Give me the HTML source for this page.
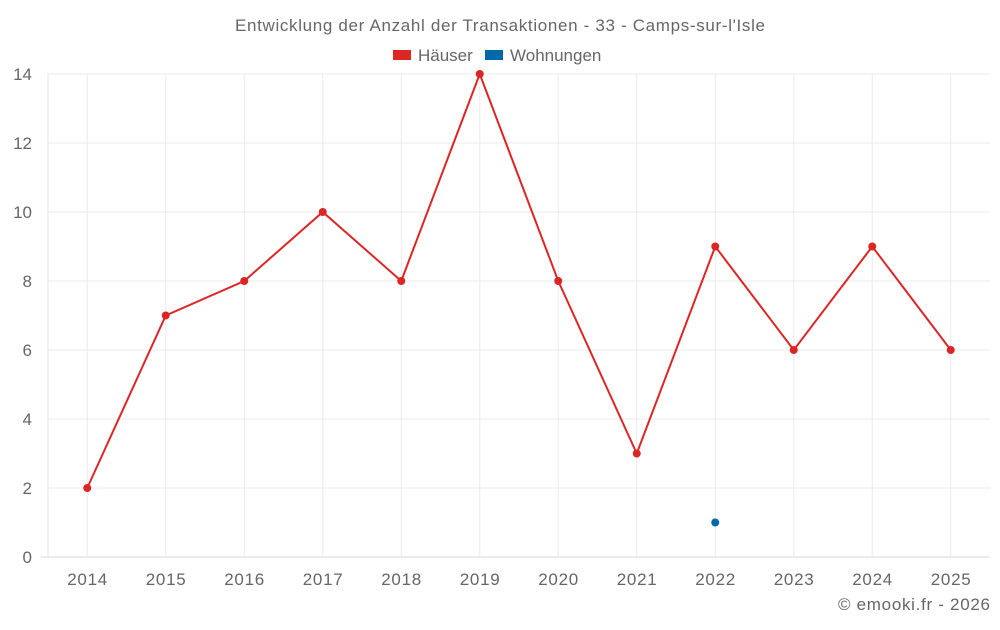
<!DOCTYPE html>
<html><head><meta charset="utf-8"><style>
body{margin:0;background:#fff;font-family:"Liberation Sans",sans-serif}
svg text{font-family:"Liberation Sans",sans-serif;fill:#666}
</style></head><body>
<svg id="c" width="1000" height="625">
<text x="500" y="31" text-anchor="middle" font-size="17" textLength="530">Entwicklung der Anzahl der Transaktionen - 33 - Camps-sur-l'Isle</text>
<g>
<rect x="393" y="50" width="18" height="10" fill="#dc2626"/>
<text x="418" y="61" font-size="17">Häuser</text>
<rect x="485" y="50" width="18" height="10" fill="#0069a8"/>
<text x="510" y="61" font-size="17">Wohnungen</text>
</g>
<g id="grid"></g><g id="marks"></g>
<text x="990" y="610" text-anchor="end" font-size="17" textLength="152">© emooki.fr - 2026</text>
</svg>
<script>
const years=[2014,2015,2016,2017,2018,2019,2020,2021,2022,2023,2024,2025];
const houses=[2,7,8,10,8,14,8,3,9,6,9,6];
const flats=[null,null,null,null,null,null,null,null,1,null,null,null];
const yTicks=[0,2,4,6,8,10,12,14];
const L=48,R=990,T=74,B=557,yMax=14;
const band=(R-L)/years.length;
const x=i=>L+band*(i+0.5);
const y=v=>B-(v/yMax)*(B-T);
const NS="http://www.w3.org/2000/svg";
function mk(tag,attrs,parent){const e=document.createElementNS(NS,tag);for(const k in attrs)e.setAttribute(k,attrs[k]);document.getElementById(parent).appendChild(e);return e;}
yTicks.forEach(t=>{
 const l=mk('line',{x1:L,x2:R,y1:y(t),y2:y(t),stroke:t===0?'#d8d8d8':'#ebebeb'},'grid');
 
 
 const tx=mk('text',{x:32,y:y(t)+6,'text-anchor':'end','font-size':17},'grid');
 tx.textContent=t;
 
 
});
mk('line',{x1:41,x2:L,y1:B,y2:B,stroke:'#d8d8d8'},'grid');
mk('line',{x1:L,x2:L,y1:T,y2:B,stroke:'#e4e4e4'},'grid');
years.forEach((yr,i)=>{
 const l=mk('line',{x1:x(i),x2:x(i),y1:T,y2:B,stroke:'#ebebeb'},'grid');
 
 
 const tx=mk('text',{x:x(i),y:585,'text-anchor':'middle','font-size':17,textLength:40},'grid');
 tx.textContent=yr;
 
 
});
const pl=mk('polyline',{points:houses.map((v,i)=>x(i)+','+y(v)).join(' '),fill:'none',stroke:'#dc2626','stroke-width':2},'marks');


houses.forEach((v,i)=>{
 const c=mk('circle',{cx:x(i),cy:y(v),r:4,fill:'#dc2626'},'marks');
 
 
});
flats.forEach((v,i)=>{if(v==null)return;
 const c=mk('circle',{cx:x(i),cy:y(v),r:4,fill:'#0069a8'},'marks');
 
 
});
</script>
</body></html>
